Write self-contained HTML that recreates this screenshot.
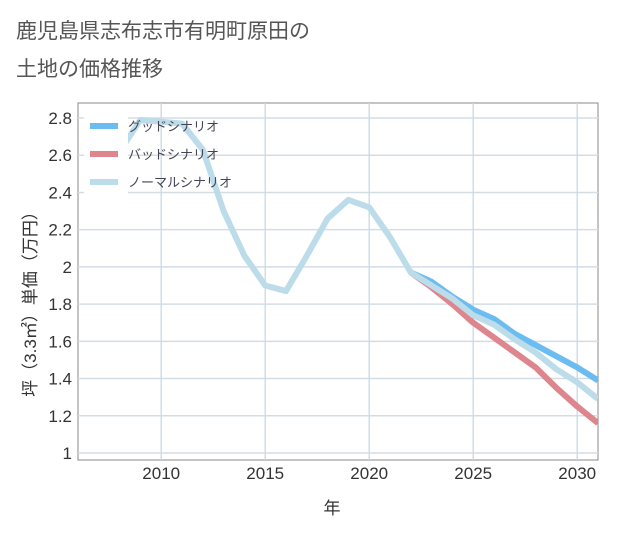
<!DOCTYPE html>
<html><head><meta charset="utf-8"><style>
body{margin:0;background:#fff;}
#wrap{width:621px;height:530px;position:relative;font-family:"Liberation Sans","Noto Sans CJK JP",sans-serif;}
</style></head><body>
<div id="wrap">
<svg id="chart" width="621" height="530"></svg>
</div>
<script>
const years=[2008,2009,2010,2011,2012,2013,2014,2015,2016,2017,2018,2019,2020,2021,2022,2023,2024,2025,2026,2027,2028,2029,2030,2031];
const normalVals=[2.62,2.79,2.78,2.77,2.63,2.30,2.06,1.90,1.87,2.06,2.26,2.36,2.32,2.16,1.97,1.90,1.83,1.74,1.69,1.61,1.54,1.45,1.38,1.29];
const futYears=[2022,2023,2024,2025,2026,2027,2028,2029,2030,2031];
const goodVals=[1.97,1.92,1.84,1.77,1.72,1.64,1.58,1.52,1.46,1.39];
const badVals=[1.97,1.89,1.80,1.70,1.62,1.54,1.46,1.35,1.25,1.16];
const xTicks=[2010,2015,2020,2025,2030];
const yTicks=[1,1.2,1.4,1.6,1.8,2,2.2,2.4,2.6,2.8];
const L=78,R=598,T=103,B=460;
const X=v=>L+(v-2006)*(R-L)/25;
const Y=v=>453-(v-1)*(453-118)/1.8;
const s=document.getElementById('chart');const NS='http://www.w3.org/2000/svg';
function mk(t,a,p){const e=document.createElementNS(NS,t);for(const k in a)e.setAttribute(k,a[k]);(p||s).appendChild(e);return e;}
let e;
e=mk('rect',{x:L,y:T,width:R-L,height:B-T,fill:'#fff',stroke:'#888','stroke-width':1});

for(let y=2006;y<=2031;y++){e=mk('line',{x1:X(y),x2:X(y),y1:T,y2:B,stroke:xTicks.includes(y)?'#c8dbe8':'none','stroke-width':1});}
yTicks.forEach(v=>{e=mk('line',{x1:L,x2:R,y1:Y(v),y2:Y(v),stroke:'#d3dde6','stroke-width':1.5});

const t=mk('text',{x:L-6,y:Y(v)+6,'text-anchor':'end','font-size':17,fill:'#333'});t.textContent=String(v);
});
xTicks.forEach(v=>{e=mk('line',{x1:X(v),x2:X(v),y1:T,y2:B,stroke:'#c8dbe8','stroke-width':1.2});

const t=mk('text',{x:X(v),y:479,'text-anchor':'middle','font-size':17,fill:'#333'});t.textContent=String(v);
});
const clip=mk('clipPath',{id:'c'});mk('rect',{x:L,y:T,width:R-L,height:B-T},clip);
function line(xs,vs,c,n){const p=mk('polyline',{points:xs.map((x,i)=>X(x)+','+Y(vs[i])).join(' '),fill:'none',stroke:c,'stroke-width':6,'stroke-linejoin':'round','clip-path':'url(#c)'});
}
line(futYears,goodVals,'#6bbcf1','good-scenario-line');
line(futYears,badVals,'#de868e','bad-scenario-line');
line(years,normalVals,'#bcdcea','normal-scenario-line');
e=mk('rect',{x:84,y:110,width:44,height:84,fill:'#fff'});
const leg=[['グッドシナリオ','#6bbcf1'],['バッドシナリオ','#de868e'],['ノーマルシナリオ','#bcdcea']];
leg.forEach((l,i)=>{const y=126+i*28;
e=mk('line',{x1:90,x2:118,y1:y,y2:y,stroke:l[1],'stroke-width':6});

const t=mk('text',{x:128,y:y+5,'font-size':13,fill:'#445'});t.textContent=l[0];
});
let t=mk('text',{x:16,y:38,'font-size':21,fill:'#555'});t.textContent='鹿児島県志布志市有明町原田の';

t=mk('text',{x:16,y:76,'font-size':21,fill:'#555'});t.textContent='土地の価格推移';

t=mk('text',{x:332,y:514,'text-anchor':'middle','font-size':17,fill:'#333'});t.textContent='年';

t=mk('text',{x:0,y:0,'text-anchor':'middle','font-size':17,fill:'#333',transform:'translate(36,300) rotate(-90)'});t.textContent='坪（3.3㎡）単価（万円）';

</script>
</body></html>
